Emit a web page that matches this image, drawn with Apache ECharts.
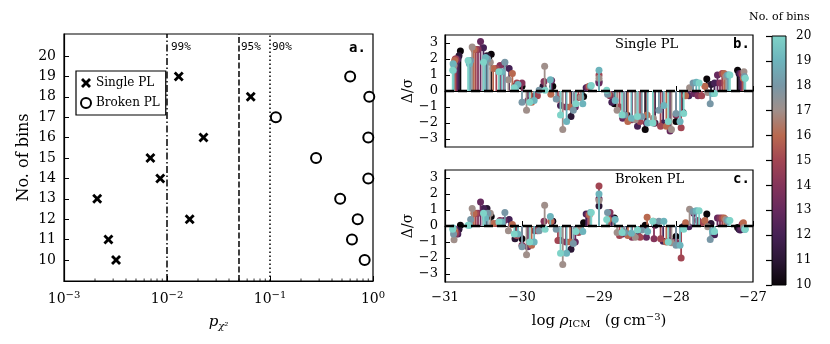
<!DOCTYPE html>
<html>
<head>
<meta charset="utf-8">
<script src="https://cdn.jsdelivr.net/npm/echarts@6/dist/echarts.min.js"></script>
<style>
html, body { margin: 0; background: #fff; }
#m { width: 830px; height: 344px; }
</style>
</head>
<body>
<div id="m"></div>
<script>
var SERIF = 'DejaVu Serif';
var MONO = 'DejaVu Sans Mono';

// number of bins 10..20 and their colours on the colour bar
var binCounts = [10, 11, 12, 13, 14, 15, 16, 17, 18, 19, 20];
var binColors = ['#0a0509', '#2b1735', '#452154', '#662a5e', '#84345a', '#a24653',
                 '#b9694f', '#a08f8a', '#7897a6', '#6db4bc', '#7fd3c8'];

// panel a: p-values per bin count
var singleBins = [10, 11, 12, 13, 14, 15, 16, 18, 19];
var singleP = [0.0032, 0.0027, 0.0166, 0.0021, 0.0086, 0.0069, 0.0226, 0.065, 0.013];
var brokenBins = [10, 11, 12, 13, 14, 15, 16, 17, 18, 19];
var brokenP = [0.83, 0.625, 0.71, 0.48, 0.90, 0.28, 0.90, 0.114, 0.92, 0.60];
var sigLevels = [0.01, 0.05, 0.1];
var sigLabels = ['99%', '95%', '90%'];
var pTicksMajor = [0.001, 0.01, 0.1, 1];

// panels b, c: residuals per bin, log rho range
var rhoMin = -31, rhoMax = -27;

var sp10 = [2.5, 2.3, 0.3, 0.3, -0.35, -0.8, -2.4, -1.9, 0.75, 1.3];
var sp11 = [2.2, 2.2, 0.3, 0.3, -1.6, 0.6, -1.5, -2.0, -1.35, 0.4, 1.1];
var sp12 = [2.0, 2.7, 1.4, -0.3, -0.9, 0.2, -0.7, -2.2, -2.0, -0.3, 0.5, 1.1];
var sp13 = [1.9, 3.1, 1.7, -0.6, 0.65, -1.0, 0.5, -1.7, -2.0, -2.5, -0.15, 1.0, 1.1];
var sp14 = [2.0, 2.6, 1.6, 0.5, 0.6, -1.0, 0.25, -0.3, -1.8, -2.0, -1.5, -0.3, 0.5, 1.1];
var sp15 = [2.0, 2.6, 1.4, 0.5, -0.3, -0.5, -0.4, 1.0, -1.0, -1.9, -2.2, -2.3, -0.3, 1.1, 1.0];
var sp16 = [1.9, 2.6, 1.4, 1.1, -0.7, -0.2, -1.0, 0.3, -0.2, -1.9, -1.5, -2.2, -0.3, 0.3, 1.1, 0.8];
var sp17 = [1.6, 2.75, 1.8, 0.7, -1.2, 1.55, -2.4, -0.4, 0.8, -1.2, -1.8, -1.7, -2.4, 0.2, -0.1, 0.9, 1.2];
var sp18 = [1.3, 1.9, 2.0, 1.8, -0.7, 0.05, -0.5, -1.2, 0.3, -0.2, -1.5, -1.6, -1.2, -1.4, 0.5, -0.8, 1.0, 0.9];
var sp19 = [1.7, 1.7, 2.1, 1.2, 0.4, -0.6, 0.7, -1.9, -0.8, 1.3, -0.6, -1.7, -2.0, -0.9, -1.9, 0.55, -0.15, 1.0, 0.8];
var sp20 = [1.3, 1.9, 1.8, 1.2, 0.2, -0.7, 0.05, -1.5, -0.8, 0.35, 0.05, -1.5, -1.6, -2.0, -1.9, -1.4, 0.5, -0.15, 1.0, 0.8];

var bp10 = [0.05, 0.6, -0.8, 0.3, 0.2, 0.5, 0.05, -0.65, 0.75, -0.1];
var bp11 = [-0.2, 1.1, -0.8, -0.1, -1.45, 1.25, -0.5, 0.05, -0.05, 0.15, -0.2];
var bp12 = [-0.5, 1.1, 0.4, -0.3, -0.9, 0.75, 0.5, -0.5, -0.95, -0.05, -0.55, -0.25];
var bp13 = [-0.4, 1.5, 0.35, -1.3, 0.3, -1.0, 1.7, -0.5, -0.7, -0.9, 0.8, 0.5, -0.1];
var bp14 = [-0.5, 0.8, 0.35, -1.2, 0.3, -1.0, 0.7, 0.85, -0.7, -0.8, -1.0, 0.35, 0.5, 0.1];
var bp15 = [-0.4, 0.8, 0.15, -0.6, -0.3, -0.9, -0.4, 2.5, -0.6, -0.7, -0.8, -2.0, 0.2, 0.5, 0.15];
var bp16 = [-0.3, 0.8, 0.15, 0.1, -1.2, 0.3, -1.0, 0.7, 0.4, -0.6, 0.55, -1.0, 0.2, 0.35, 0.5, 0.2];
var bp17 = [-0.86, 1.1, 0.8, -0.3, -1.8, 1.3, -2.4, -0.2, 1.6, -0.4, -0.7, 0.3, -1.05, 1.05, -0.05, 0.4, -0.1];
var bp18 = [-0.5, 0.4, 0.8, 0.85, -1.3, -0.3, -0.2, -1.1, 0.85, 0.85, -0.4, -0.25, 0.3, -1.2, 0.9, -0.85, 0.35, -0.2];
var bp19 = [-0.13, 0.05, 0.5, 0.25, -0.5, -1.0, 0.6, -1.7, -0.35, 2.0, 0.4, -0.45, -0.35, 0.3, -1.2, 0.95, -0.35, 0.35, -0.2];
var bp20 = [-0.2, 0.05, 0.8, 0.25, -0.5, -1.0, -0.2, -1.7, -0.35, 0.85, 0.4, -0.4, -0.25, 0.3, -1.0, -0.2, 0.95, -0.35, 0.35, -0.2];

var singleRes = [sp10, sp11, sp12, sp13, sp14, sp15, sp16, sp17, sp18, sp19, sp20];
var brokenRes = [bp10, bp11, bp12, bp13, bp14, bp15, bp16, bp17, bp18, bp19, bp20];

var myChart = echarts.init(document.getElementById('m'));

var Y0MIN = 8.97, Y0MAX = 21.08;

// bin centres across the density range
function centers(n) {
    var out = [];
    for (var i = 0; i < n; i++) out.push(rhoMin + (i + 0.5) * (rhoMax - rhoMin) / n);
    return out;
}

function minus(v) {
    return v < 0 ? '\u2212' + (-v) : '' + v;
}

function stemItem(params, api) {
    var x = api.value(0), y = api.value(1);
    var a = api.coord([x, 0]), b = api.coord([x, y]);
    var c = api.visual('color');
    return {
        type: 'group',
        children: [
            { type: 'line', shape: { x1: a[0], y1: a[1], x2: b[0], y2: b[1] }, style: { stroke: c, lineWidth: 1.8 } },
            { type: 'circle', shape: { cx: b[0], cy: b[1], r: 3.5 }, style: { fill: c } }
        ]
    };
}

// minor ticks of the log axis (2..9 x 10^k)
var minorTicks = [];
for (var k = 0; k < pTicksMajor.length - 1; k++) {
    for (var m = 2; m < 10; m++) minorTicks.push([m * pTicksMajor[k]]);
}

var axisCommon = {
    axisLine: { show: true, lineStyle: { color: '#000', width: 1.2 } },
    axisTick: { show: true, inside: true, length: 5, lineStyle: { color: '#000', width: 1 } },
    splitLine: { show: false }
};

var series = [];

// panel a
sigLevels.forEach(function (lv, i) {
    var types = [[7, 2.5, 1.5, 2.5], [6, 2.5], [1.5, 2.5]];
    series.push({
        type: 'line', xAxisIndex: 0, yAxisIndex: 0, silent: true,
        data: [[lv, Y0MIN], [lv, Y0MAX]], symbol: 'none',
        lineStyle: { color: '#000', width: 1.5, type: types[i] }
    });
});
series.push({
    type: 'custom', xAxisIndex: 0, yAxisIndex: 0, silent: true,
    data: minorTicks,
    encode: { x: 0 },
    renderItem: function (params, api) {
        var p = api.coord([api.value(0), Y0MIN]);
        return { type: 'line', shape: { x1: p[0], y1: p[1], x2: p[0], y2: p[1] - 2.5 }, style: { stroke: '#000', lineWidth: 0.8 } };
    }
});
series.push({
    name: 'Single PL', type: 'scatter', xAxisIndex: 0, yAxisIndex: 0,
    symbol: 'path://M0,2 L2,0 L5,3 L8,0 L10,2 L7,5 L10,8 L8,10 L5,7 L2,10 L0,8 L3,5 Z',
    symbolSize: 10,
    itemStyle: { color: '#000', opacity: 1 },
    data: singleP.map(function (p, i) { return [p, singleBins[i]]; })
});
series.push({
    name: 'Broken PL', type: 'scatter', xAxisIndex: 0, yAxisIndex: 0,
    symbol: 'circle', symbolSize: 10,
    itemStyle: { color: '#fff', borderColor: '#000', borderWidth: 2, opacity: 1 },
    data: brokenP.map(function (p, i) { return [p, brokenBins[i]]; })
});

// panels b and c
[singleRes, brokenRes].forEach(function (set, g) {
    set.forEach(function (vals, j) {
        var xs = centers(binCounts[j]);
        series.push({
            type: 'custom', xAxisIndex: g + 1, yAxisIndex: g + 1,
            itemStyle: { color: binColors[j] },
            encode: { x: 0, y: 1 },
            data: xs.map(function (x, i) { return [x, vals[i]]; }),
            renderItem: stemItem
        });
    });
    series.push({
        type: 'line', xAxisIndex: g + 1, yAxisIndex: g + 1, silent: true, z: 5,
        data: [[rhoMin, 0], [rhoMax, 0]], symbol: 'none',
        lineStyle: { color: '#000', width: 2.6, type: [9, 4] }
    });
});

// colour bar
var stops = binColors.map(function (c, i) { return { offset: i / (binColors.length - 1), color: c }; });
series.push({
    type: 'custom', xAxisIndex: 3, yAxisIndex: 3, silent: true,
    data: [[0, 10, 1, 20]],
    encode: { x: [0, 2], y: [1, 3] },
    renderItem: function (params, api) {
        var p0 = api.coord([api.value(0), api.value(1)]);
        var p1 = api.coord([api.value(2), api.value(3)]);
        return {
            type: 'rect',
            shape: { x: p0[0], y: p1[1], width: p1[0] - p0[0], height: p0[1] - p1[1] },
            style: { fill: new echarts.graphic.LinearGradient(0, 1, 0, 0, stops), stroke: '#000', lineWidth: 1 }
        };
    }
});

var option = {
    animation: false,
    backgroundColor: '#fff',
    textStyle: { fontFamily: SERIF },
    grid: [
        { left: 64, top: 34, width: 309, height: 247, show: true, borderColor: '#000', borderWidth: 1.2 },
        { left: 445, top: 35, width: 308, height: 112, show: true, borderColor: '#000', borderWidth: 1.2 },
        { left: 445, top: 170, width: 308, height: 112, show: true, borderColor: '#000', borderWidth: 1.2 },
        { left: 772, top: 36, width: 14, height: 249 }
    ],
    legend: {
        data: ['Single PL', 'Broken PL'],
        left: 76, top: 71, orient: 'vertical',
        itemWidth: 10, itemHeight: 10, itemGap: 8,
        padding: [6, 6, 6, 4],
        borderColor: '#000', borderWidth: 1.2,
        textStyle: { fontFamily: SERIF, fontSize: 12, color: '#000' }
    },
    xAxis: [
        Object.assign({}, axisCommon, {
            type: 'log', gridIndex: 0, min: 0.001, max: 1, logBase: 10,
            name: '{i|p}{s|\u03c7\u00b2}', nameLocation: 'middle', nameGap: 32,
            nameTextStyle: { rich: { i: { fontFamily: SERIF, fontStyle: 'italic', fontSize: 15, color: '#000' },
                                     s: { fontFamily: SERIF, fontStyle: 'italic', fontSize: 10, color: '#000', padding: [8, 0, 0, 0] } } },
            axisLabel: {
                color: '#000', margin: 9,
                formatter: function (v) { return '10{s|' + minus(Math.round(Math.log10(v))) + '}'; },
                fontSize: 14,
                rich: { s: { fontSize: 10, padding: [0, 0, 9, 0], color: '#000' } }
            }
        }),
        Object.assign({}, axisCommon, {
            type: 'value', gridIndex: 1, min: rhoMin, max: rhoMax, interval: 1,
            axisLabel: { show: false }
        }),
        Object.assign({}, axisCommon, {
            type: 'value', gridIndex: 2, min: rhoMin, max: rhoMax, interval: 1,
            name: 'log {i|\u03c1}{s|ICM}   (g\u2009cm{u|\u22123})', nameLocation: 'middle', nameGap: 30,
            nameTextStyle: { fontFamily: SERIF, fontSize: 15, color: '#000',
                rich: { i: { fontFamily: SERIF, fontStyle: 'italic', fontSize: 15, color: '#000' },
                        s: { fontFamily: SERIF, fontSize: 10, color: '#000', padding: [7, 0, 0, 0] },
                        u: { fontFamily: SERIF, fontSize: 10, color: '#000', padding: [0, 0, 8, 0] } } },
            axisLabel: { color: '#000', fontSize: 13, margin: 9, formatter: minus }
        }),
        { type: 'value', gridIndex: 3, min: 0, max: 1, show: false }
    ],
    yAxis: [
        Object.assign({}, axisCommon, {
            type: 'value', gridIndex: 0, min: Y0MIN, max: Y0MAX,
            name: 'No. of bins', nameLocation: 'middle', nameGap: 32,
            nameTextStyle: { fontFamily: SERIF, fontSize: 16, color: '#000' },
            axisTick: { show: true, inside: true, length: 5, lineStyle: { color: '#000' }, customValues: binCounts },
            axisLabel: { color: '#000', fontSize: 14, margin: 8, customValues: binCounts }
        }),
        Object.assign({}, axisCommon, {
            type: 'value', gridIndex: 1, min: -3.5, max: 3.5,
            name: '\u0394/\u03c3', nameLocation: 'middle', nameGap: 19,
            nameTextStyle: { fontFamily: SERIF, fontSize: 14, color: '#000' },
            axisTick: { show: true, inside: true, length: 5, lineStyle: { color: '#000' }, customValues: [-3, -2, -1, 0, 1, 2, 3] },
            axisLabel: { color: '#000', fontSize: 13, margin: 7, formatter: minus, customValues: [-3, -2, -1, 0, 1, 2, 3] }
        }),
        Object.assign({}, axisCommon, {
            type: 'value', gridIndex: 2, min: -3.5, max: 3.5,
            name: '\u0394/\u03c3', nameLocation: 'middle', nameGap: 19,
            nameTextStyle: { fontFamily: SERIF, fontSize: 14, color: '#000' },
            axisTick: { show: true, inside: true, length: 5, lineStyle: { color: '#000' }, customValues: [-3, -2, -1, 0, 1, 2, 3] },
            axisLabel: { color: '#000', fontSize: 13, margin: 7, formatter: minus, customValues: [-3, -2, -1, 0, 1, 2, 3] }
        }),
        {
            type: 'value', gridIndex: 3, min: 10, max: 20, interval: 1, position: 'right',
            axisLine: { show: false },
            axisTick: { show: true, inside: true, length: 6, lineStyle: { color: '#000', width: 1.2 } },
            axisLabel: { color: '#000', fontSize: 12, margin: 10 },
            splitLine: { show: false }
        }
    ],
    graphic: [
        { type: 'text', left: 171, top: 42, style: { text: sigLabels[0], font: '11px ' + MONO, fill: '#000' } },
        { type: 'text', left: 241, top: 42, style: { text: sigLabels[1], font: '11px ' + MONO, fill: '#000' } },
        { type: 'text', left: 272, top: 42, style: { text: sigLabels[2], font: '11px ' + MONO, fill: '#000' } },
        { type: 'text', left: 349, top: 41, style: { text: 'a.', font: 'bold 14px ' + MONO, fill: '#000' } },
        { type: 'text', left: 615, top: 38, style: { text: 'Single PL', font: '13px ' + SERIF, fill: '#000' } },
        { type: 'text', left: 733, top: 37, style: { text: 'b.', font: 'bold 14px ' + MONO, fill: '#000' } },
        { type: 'text', left: 615, top: 173, style: { text: 'Broken PL', font: '13px ' + SERIF, fill: '#000' } },
        { type: 'text', left: 733, top: 172, style: { text: 'c.', font: 'bold 14px ' + MONO, fill: '#000' } },
        { type: 'text', left: 749, top: 12, style: { text: 'No. of bins', font: '11px ' + SERIF, fill: '#000' } }
    ],
    series: series
};

myChart.setOption(option);
window.addEventListener('resize', function () {
    myChart.resize();
});
</script>
</body>
</html>
